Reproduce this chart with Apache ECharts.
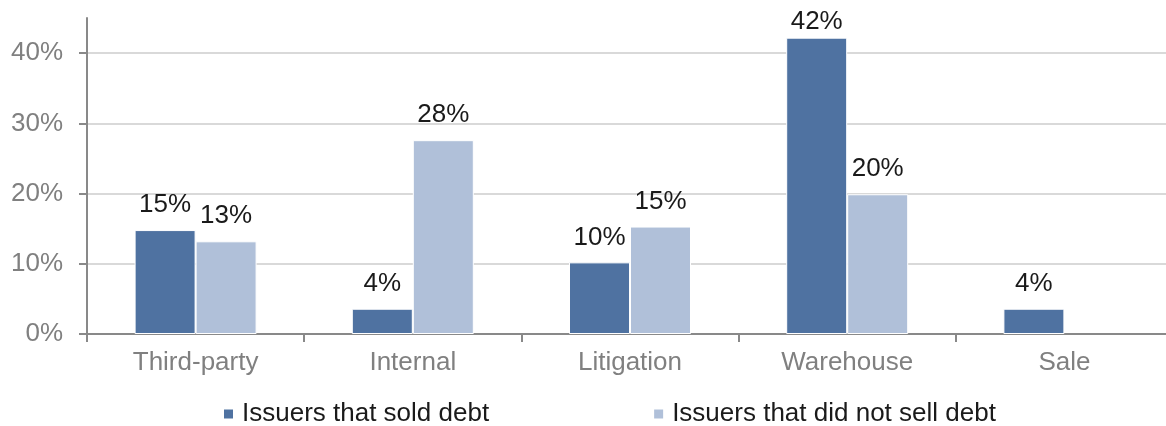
<!DOCTYPE html>
<html>
<head>
<meta charset="utf-8">
<script src="https://cdn.jsdelivr.net/npm/echarts@6/dist/echarts.min.js"></script>
<style>
  html, body { margin: 0; padding: 0; background: #fff; }
  #chart { width: 1166px; height: 426px; }
</style>
</head>
<body>
<div id="chart"></div>
<script>
// categories and values (percent)
const categories = ['Third-party', 'Internal', 'Litigation', 'Warehouse', 'Sale']
const soldDebt = [14.8, 3.6, 10.2, 42.2, 3.6]
const notSoldDebt = [13.2, 27.6, 15.3, 19.9, null]
const yTicks = [0, 10, 20, 30, 40]
const seriesNames = ['Issuers that sold debt', 'Issuers that did not sell debt']

const font = '"Liberation Sans", Arial, sans-serif'

function buildData(values) {
  // labels sitting near the top edge get a smaller gap
  return values.map(v => {
    if (v == null) return null
    if (v > 40) return { value: v, label: { distance: 3 } }
    return v
  })
}

function barSeries(name, values, color) {
  return {
    name: name,
    type: 'bar',
    data: buildData(values),
    barWidth: 61,
    barGap: '0%',
    itemStyle: { color: color, borderColor: '#fff', borderWidth: 1 },
    label: {
      show: true,
      position: 'top',
      distance: 12,
      fontFamily: font,
      fontSize: 26,
      color: '#1a1a1a',
      formatter: p => Math.round(p.value) + '%'
    }
  }
}

const chart = echarts.init(document.getElementById('chart'))
const option = {
  animation: false,
  grid: { left: 87, width: 1086, top: 18, bottom: 92, outerBoundsMode: 'none' },
  legend: {
    left: 217,
    top: 396,
    itemWidth: 11,
    itemHeight: 11,
    itemGap: 163,
    icon: 'rect',
    textStyle: { fontFamily: font, fontSize: 26, color: '#1a1a1a', padding: [0, 0, 0, 3] },
    data: seriesNames
  },
  xAxis: {
    type: 'category',
    data: categories,
    axisLine: { lineStyle: { color: '#898989', width: 2 } },
    axisTick: { show: true, length: 8, lineStyle: { color: '#898989', width: 2 } },
    axisLabel: { fontFamily: font, fontSize: 26, color: '#808080', margin: 16 }
  },
  yAxis: {
    type: 'value',
    min: 0,
    max: 45,
    interval: 10,
    axisLine: { show: true, lineStyle: { color: '#898989', width: 2 } },
    axisTick: { show: true, length: 8, customValues: yTicks, lineStyle: { color: '#898989', width: 2 } },
    axisLabel: {
      customValues: yTicks,
      fontFamily: font, fontSize: 26, color: '#808080', margin: 24,
      formatter: v => v + '%'
    },
    splitLine: { lineStyle: { color: '#d9d9d9', width: 2 } }
  },
  series: [
    barSeries(seriesNames[0], soldDebt, '#4f72a1'),
    barSeries(seriesNames[1], notSoldDebt, '#b0c0d9')
  ]
}
chart.setOption(option)
window.addEventListener('resize', function () {
  chart.resize()
})
</script>
</body>
</html>
